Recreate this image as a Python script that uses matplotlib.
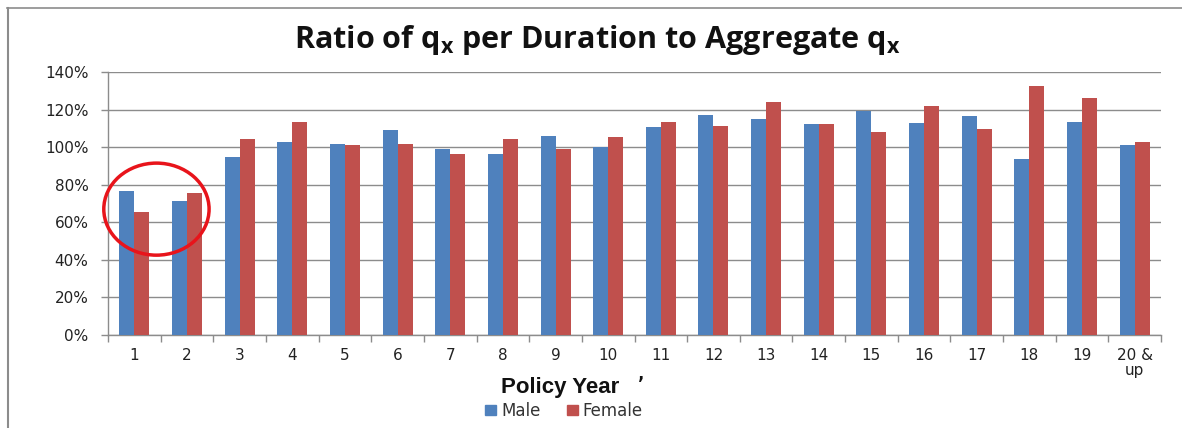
import matplotlib
matplotlib.use("Agg")
import matplotlib.pyplot as plt
from matplotlib.patches import Ellipse
from matplotlib.lines import Line2D
import numpy as np

categories = ["1", "2", "3", "4", "5", "6", "7", "8", "9", "10",
              "11", "12", "13", "14", "15", "16", "17", "18", "19", "20 &\nup"]
male = [76.9, 71.3, 94.9, 103.0, 101.6, 109.3, 98.8, 96.3, 106.0, 100.0,
        110.8, 117.1, 115.2, 112.2, 119.0, 113.0, 116.6, 93.8, 113.6, 101.0]
female = [65.6, 75.5, 104.6, 113.2, 101.2, 101.6, 96.3, 104.6, 99.1, 105.5,
          113.6, 111.3, 123.8, 112.2, 107.9, 121.9, 109.9, 132.5, 126.3, 103.0]
yticks = [0, 20, 40, 60, 80, 100, 120, 140]

W, H = 1182, 428
fig = plt.figure(figsize=(W / 100, H / 100), dpi=100)
fig.patch.set_facecolor("white")

left, right, top, bottom = 108, 1161, 72, 335
ax = fig.add_axes([left / W, 1 - bottom / H, (right - left) / W, (bottom - top) / H])

x = np.arange(len(categories))
bw = 0.285
blue = "#4F81BD"
red = "#C0504D"
ax.bar(x - bw / 2, male, bw, color=blue, label="Male", zorder=3)
ax.bar(x + bw / 2, female, bw, color=red, label="Female", zorder=3)

ax.set_xlim(-0.5, len(categories) - 0.5)
ax.set_ylim(0, 140)
ax.set_yticks(yticks)
ax.set_yticklabels([f"{v}%" for v in yticks], fontsize=11, family="DejaVu Sans", color="#222222")
ax.yaxis.grid(True, color="#8c8c8c", linewidth=1.0, zorder=0)
ax.set_axisbelow(True)

ax.set_xticks(x)
ax.set_xticklabels(categories, fontsize=11, family="DejaVu Sans", color="#222222",
                   linespacing=1.05, va="top")
ax.set_xticks(np.arange(-0.5, len(categories)), minor=True)
ax.tick_params(axis="x", which="major", length=0, pad=9)
ax.tick_params(axis="x", which="minor", length=5, color="#8c8c8c", width=1)
ax.tick_params(axis="y", length=5, color="#8c8c8c", width=1, pad=9)

for s in ["top", "right"]:
    ax.spines[s].set_visible(False)
for s in ["left", "bottom"]:
    ax.spines[s].set_color("#8c8c8c")
    ax.spines[s].set_linewidth(1.0)

# red circle highlight
ell = Ellipse((0.42, 67), width=2.0, height=49, fill=False, edgecolor="#E8141B",
              linewidth=2.5, clip_on=False, zorder=5)
ax.add_patch(ell)

# title
fig.text(597 / W, 1 - 40 / H,
         r"Ratio of q$_\mathregular{x}$ per Duration to Aggregate q$_\mathregular{x}$",
         ha="center", va="center", fontsize=22, fontweight="bold", family="Open Sans",
         color="#111111")

# axis title
fig.text(560 / W, 1 - 387 / H, "Policy Year", ha="center", va="center",
         fontsize=16, fontweight="bold", family="Liberation Sans", color="#111111")
fig.text(641 / W, 1 - 384 / H, "\u02bc", ha="center", va="center",
         fontsize=12, fontweight="bold", family="DejaVu Sans", color="#111111")

# legend
handles = [plt.Rectangle((0, 0), 1, 1, color=blue), plt.Rectangle((0, 0), 1, 1, color=red)]
leg = fig.legend(handles, ["Male", "Female"], loc="center", bbox_to_anchor=(564 / W, 1 - 411 / H),
                 ncol=2, frameon=False, handlelength=0.65, handleheight=0.6,
                 handletextpad=0.3, columnspacing=1.6, prop={"family": "DejaVu Sans", "size": 12})
for t in leg.get_texts():
    t.set_color("#333333")

# outer frame lines (top & left)
fig.add_artist(Line2D([7 / W, 1], [1 - 8 / H, 1 - 8 / H], transform=fig.transFigure,
                      color="#8c8c8c", linewidth=1.2))
fig.add_artist(Line2D([8 / W, 8 / W], [0, 1 - 8 / H], transform=fig.transFigure,
                      color="#8c8c8c", linewidth=1.5))

fig.savefig("out.png", dpi=100, facecolor="white")
